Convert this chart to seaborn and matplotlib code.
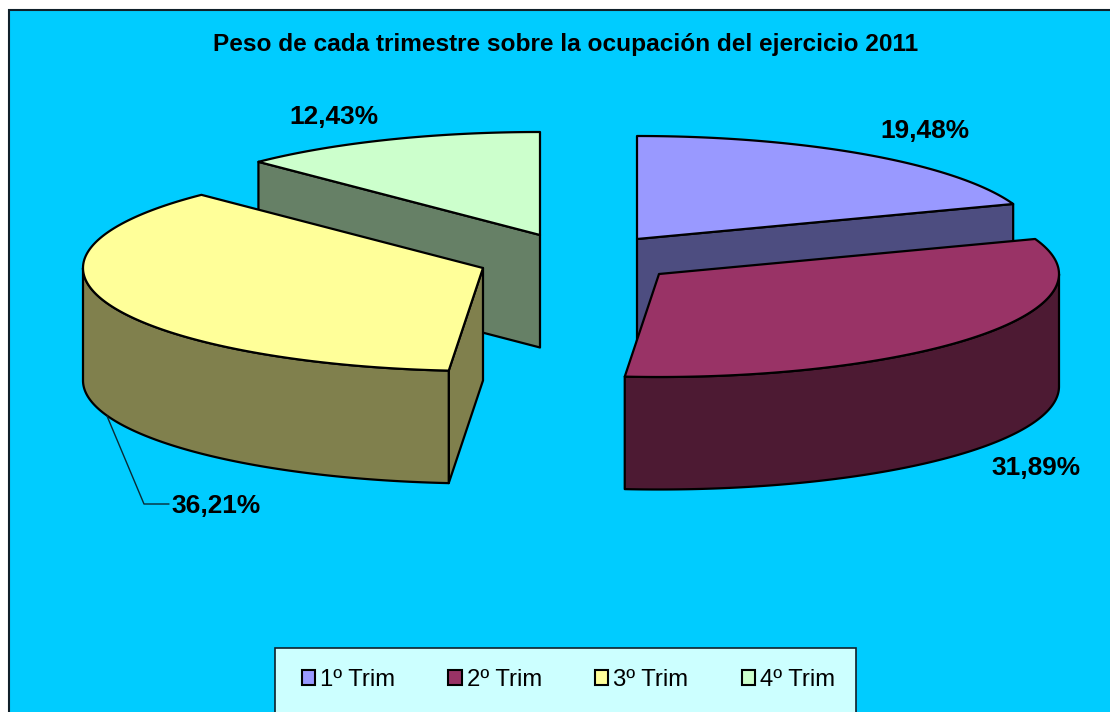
import numpy as np
import matplotlib
matplotlib.use("Agg")
import matplotlib.pyplot as plt
from matplotlib.patches import Rectangle, Patch
import seaborn as sns

title = "Peso de cada trimestre sobre la ocupación del ejercicio 2011"
categories = ["1º Trim", "2º Trim", "3º Trim", "4º Trim"]
values = [19.48, 31.89, 36.21, 12.43]
value_labels = ["19,48%", "31,89%", "36,21%", "12,43%"]
top_colors = ["#9999FF", "#993366", "#FFFF99", "#CCFFCC"]

# layout (pixels of the 1110x712 canvas)
W, H = 1110, 712
CENTRES = [(637, 239), (659, 274), (483, 268), (540, 235)]
RX, RY, DEPTH = 400, 103, 112.5
LABEL_POS = [(925, 131), (1036, 468), (216, 506), (334, 117)]
DRAW_ORDER = [0, 3, 2, 1]

sns.set_theme(style="white")
plt.rcParams["font.family"] = ["Liberation Sans", "DejaVu Sans"]

fig = plt.figure(figsize=(W / 100, H / 100), dpi=100, facecolor="white")
ax = fig.add_axes([0, 0, 1, 1])
ax.set_xlim(0, W)
ax.set_ylim(H, 0)
ax.axis("off")

ax.add_patch(Rectangle((9, 10), W + 20, H + 20, fc="#00CCFF", ec="#10202A", lw=1.5, zorder=0))


def arc(cx, cy, t0, t1, dy=0.0):
    t = np.radians(np.linspace(t0, t1, max(int(abs(t1 - t0)) * 2, 2)))
    return cx + RX * np.sin(t), cy - RY * np.cos(t) + dy


def shade(c, f=0.5):
    return tuple(f * v for v in matplotlib.colors.to_rgb(c))


edges = np.concatenate([[0], np.cumsum(values)]) / sum(values) * 360
style = dict(edgecolor="black", linewidth=1.6, joinstyle="round")

for z, i in enumerate(DRAW_ORDER):
    cx, cy = CENTRES[i]
    t0, t1 = edges[i], edges[i + 1]
    side = shade(top_colors[i])
    zo = 2 + z
    # radial cut walls that face the viewer
    for t, visible in ((t0, np.sin(np.radians(t0)) < -1e-6), (t1, np.sin(np.radians(t1)) > 1e-6)):
        if visible:
            ex, ey = arc(cx, cy, t, t, 0)
            ex, ey = ex[0], ey[0]
            ax.fill([cx, ex, ex, cx], [cy, ey, ey + DEPTH, cy + DEPTH], fc=side, zorder=zo, **style)
    # outer rim
    a, b = max(t0, 90), min(t1, 270)
    if b > a:
        xt, yt = arc(cx, cy, a, b)
        ax.fill(np.r_[xt, xt[::-1]], np.r_[yt, yt[::-1] + DEPTH], fc=side, zorder=zo, **style)
    # top face
    xt, yt = arc(cx, cy, t0, t1)
    ax.fill(np.r_[cx, xt], np.r_[cy, yt], fc=top_colors[i], zorder=zo, **style)

# data labels
for lab, (x, y) in zip(value_labels, LABEL_POS):
    ax.text(x, y, lab, ha="center", va="center", fontsize=18.9, fontweight="bold", color="black", zorder=20)
ax.plot([107, 144, 169], [416, 504, 504], color="#0A2A35", lw=1, zorder=19)

ax.text(566, 45, title, ha="center", va="center", fontsize=17.6, fontweight="bold", color="black", zorder=20)

# legend
ax.add_patch(Rectangle((275, 648), 581, H, fc="#CCFFFF", ec="#10202A", lw=1.2, zorder=15))
handles = [Patch(fc=c, ec="black", lw=1.5) for c in top_colors]
leg = ax.legend(handles, categories, ncol=4, frameon=False, loc="center",
                bbox_to_anchor=(568.5 / W, 1 - 680 / H), fontsize=17.2,
                handlelength=0.55, handleheight=0.58, handletextpad=0.22,
                columnspacing=2.22, labelcolor="black", borderpad=0, borderaxespad=0)
leg.set_zorder(21)

fig.savefig("out.png", dpi=100, facecolor="white")
